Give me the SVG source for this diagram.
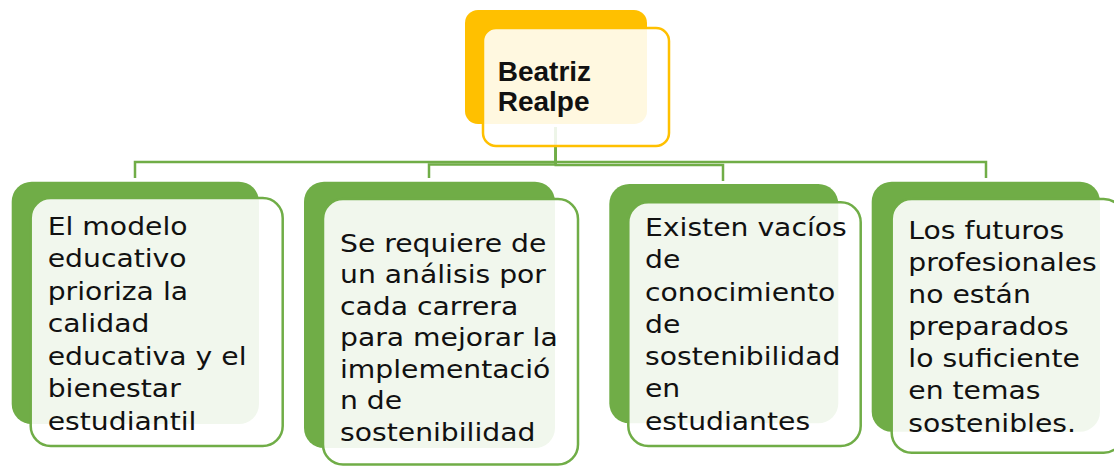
<svg xmlns="http://www.w3.org/2000/svg" width="1114" height="466" viewBox="0 0 1114 466">
<style>
.conn{fill:none;stroke:#70AD47;stroke-width:2.5}
.gback{fill:#70AD47}
.gfront{fill:#FFFFFF;fill-opacity:0.9;stroke:#70AD47;stroke-width:2.5}
.yback{fill:#FFC000}
.yfront{fill:#FFFFFF;fill-opacity:0.88;stroke:#FFC000;stroke-width:2.5}
.t{font-family:"DejaVu Sans",sans-serif;font-size:25px;fill:#111111}
.tb{font-family:"Liberation Sans",Arial,sans-serif;font-weight:bold;font-size:28px;fill:#111111}
</style>
<rect width="1114" height="466" fill="#FFFFFF"/>
<g id="connectors">
<polyline class="conn" points="555.7,127 555.7,162 135,162 135,178"/>
<polyline class="conn" points="555.7,127 555.7,164.5 429,164.5 429,178"/>
<polyline class="conn" points="555.7,127 555.7,165 723,165 723,181"/>
<polyline class="conn" points="555.7,127 555.7,162 986,162 986,178"/>
</g>
<g id="node-root">
<rect class="yback" x="465" y="10" width="182" height="114" rx="13"/>
<rect class="yfront" x="483" y="28" width="186" height="118" rx="13"/>
<text class="tb" x="497.7" y="81">Beatriz</text>
<text class="tb" x="497.7" y="111">Realpe</text>
</g>
<g id="node-1">
<rect class="gback" x="11.7" y="181.7" width="247.3" height="242.3" rx="20"/>
<rect class="gfront" x="30.7" y="198" width="252" height="248" rx="20"/>
<g transform="translate(47.7,0) scale(1.13,1)">
<text class="t" x="0" y="235">El modelo</text>
<text class="t" x="0" y="267.5">educativo</text>
<text class="t" x="0" y="300">prioriza la</text>
<text class="t" x="0" y="332.5">calidad</text>
<text class="t" x="0" y="365">educativa y el</text>
<text class="t" x="0" y="397.5">bienestar</text>
<text class="t" x="0" y="430">estudiantil</text>
</g>
</g>
<g id="node-2">
<rect class="gback" x="304" y="181.7" width="251" height="266.3" rx="20"/>
<rect class="gfront" x="323" y="199" width="255" height="265.5" rx="20"/>
<g transform="translate(340,0) scale(1.13,1)">
<text class="t" x="0" y="251.7">Se requiere de</text>
<text class="t" x="0" y="283.2">un análisis por</text>
<text class="t" x="0" y="314.7">cada carrera</text>
<text class="t" x="0" y="346.2">para mejorar la</text>
<text class="t" x="0" y="377.7">implementació</text>
<text class="t" x="0" y="409.2">n de</text>
<text class="t" x="0" y="440.7">sostenibilidad</text>
</g>
</g>
<g id="node-3">
<rect class="gback" x="609.3" y="184" width="229" height="239.3" rx="20"/>
<rect class="gfront" x="628.3" y="202.3" width="232.4" height="243.7" rx="20"/>
<g transform="translate(645,0) scale(1.13,1)">
<text class="t" x="0" y="236">Existen vacíos</text>
<text class="t" x="0" y="268.3">de</text>
<text class="t" x="0" y="300.6">conocimiento</text>
<text class="t" x="0" y="332.9">de</text>
<text class="t" x="0" y="365.2">sostenibilidad</text>
<text class="t" x="0" y="397.5">en</text>
<text class="t" x="0" y="429.8">estudiantes</text>
</g>
</g>
<g id="node-4">
<rect class="gback" x="871.7" y="181.7" width="228.3" height="250" rx="20"/>
<rect class="gfront" x="891.7" y="199" width="232" height="253.7" rx="20"/>
<g transform="translate(908.3,0) scale(1.13,1)">
<text class="t" x="0" y="239">Los futuros</text>
<text class="t" x="0" y="271.1">profesionales</text>
<text class="t" x="0" y="303.2">no están</text>
<text class="t" x="0" y="335.3">preparados</text>
<text class="t" x="0" y="367.4">lo suficiente</text>
<text class="t" x="0" y="399.5">en temas</text>
<text class="t" x="0" y="431.6">sostenibles.</text>
</g>
</g>
</svg>
